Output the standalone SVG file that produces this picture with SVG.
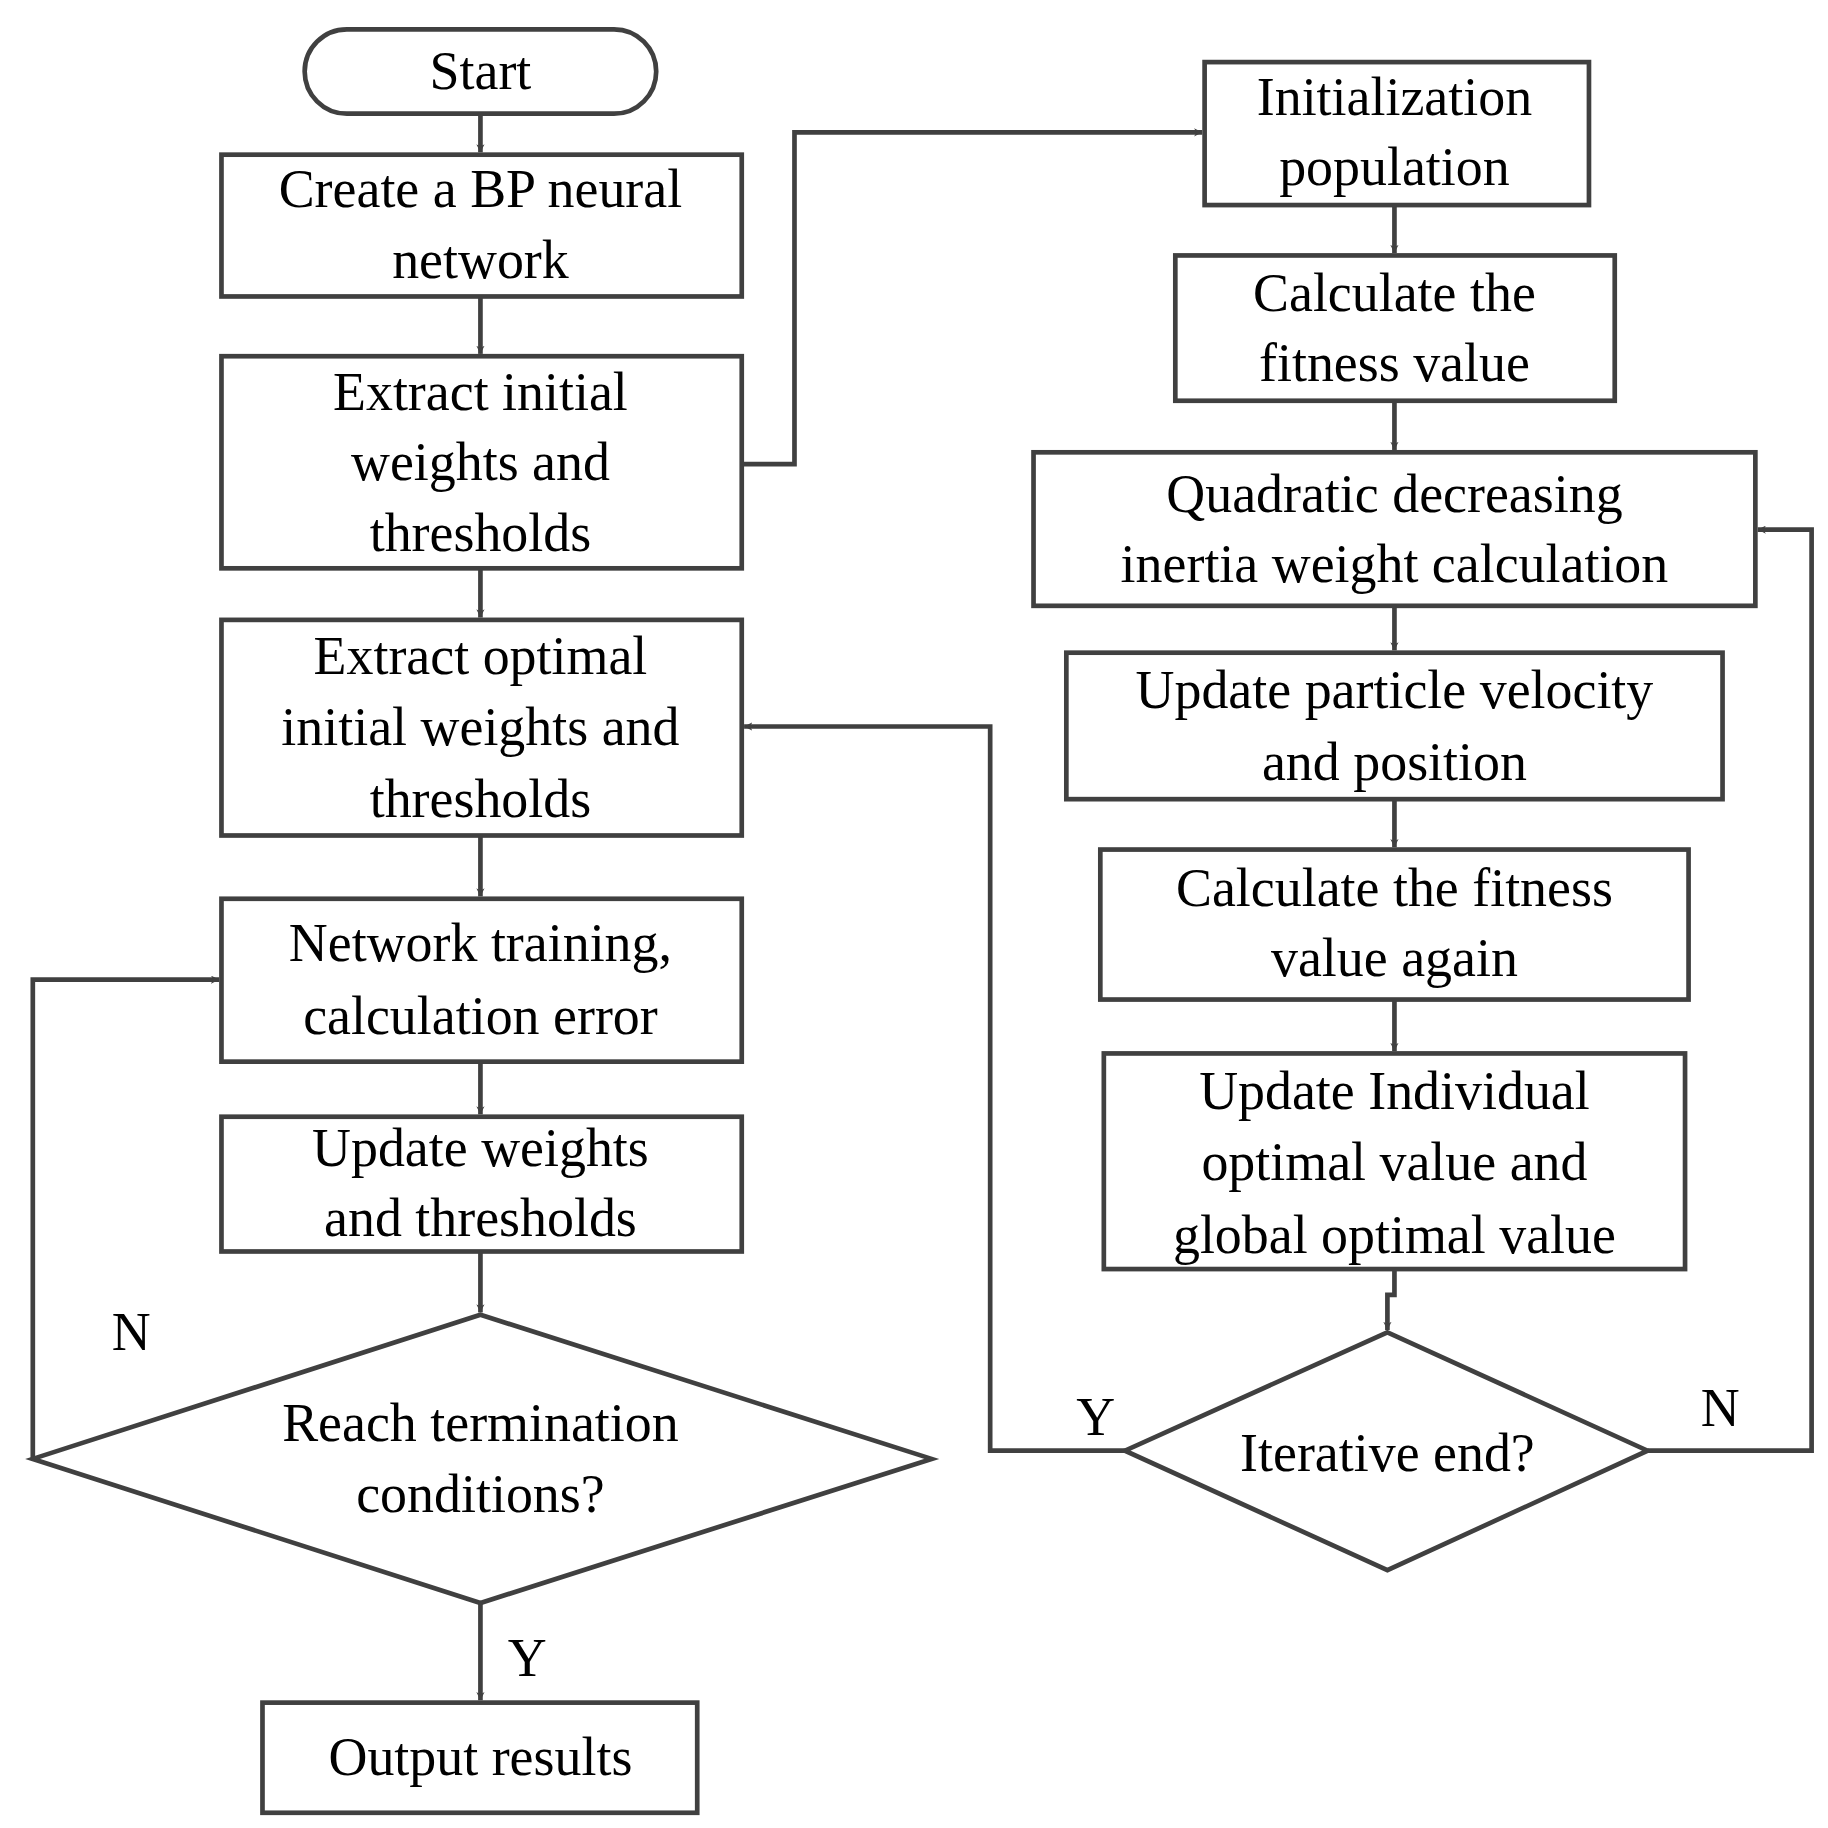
<svg xmlns="http://www.w3.org/2000/svg" width="1828" height="1828" viewBox="0 0 1828 1828">
<defs>
<style>
.b{fill:#fff;stroke:#404040;stroke-width:4}
.c{fill:none;stroke:#404040;stroke-width:4}
text{font-family:"Liberation Serif",serif;font-size:46px;fill:#000;text-anchor:middle}
</style>
<marker id="a" viewBox="0 0 10 10" refX="10" refY="5" markerWidth="7" markerHeight="7" markerUnits="userSpaceOnUse" orient="auto"><path d="M0,0L10,5L0,10L3,5z" fill="#404040"/></marker>
</defs>
<rect width="1828" height="1828" fill="#fff"/>
<g transform="scale(1.1718)">
<g id="connectors" class="c" marker-end="url(#a)">
<path class="c" d="M410,97V130" marker-end="url(#a)"/>
<path class="c" d="M410,253V302" marker-end="url(#a)"/>
<path class="c" d="M410,485V527" marker-end="url(#a)"/>
<path class="c" d="M410,713V765" marker-end="url(#a)"/>
<path class="c" d="M410,906V951" marker-end="url(#a)"/>
<path class="c" d="M410,1068V1120" marker-end="url(#a)"/>
<path class="c" d="M410,1368V1451" marker-end="url(#a)"/>
<path class="c" d="M28,1245V836H187" marker-end="url(#a)"/>
<path class="c" d="M633,396H678V113H1026" marker-end="url(#a)"/>
<path class="c" d="M1190,175V216" marker-end="url(#a)"/>
<path class="c" d="M1190,342V384" marker-end="url(#a)"/>
<path class="c" d="M1190,517V555" marker-end="url(#a)"/>
<path class="c" d="M1190,682V723" marker-end="url(#a)"/>
<path class="c" d="M1190,853V897" marker-end="url(#a)"/>
<path class="c" d="M1190,1083V1105H1184V1135" marker-end="url(#a)"/>
<path class="c" d="M960,1238H845V620H635" marker-end="url(#a)"/>
<path class="c" d="M1406,1238H1546V452H1500" marker-end="url(#a)"/>
</g>
<g id="start"><rect class="b" x="260" y="25" width="300" height="72" rx="36"/><text x="410" y="76">Start</text></g>
<g id="create"><rect class="b" x="189" y="132" width="444" height="121"/><text x="410" y="177">Create a BP neural</text><text x="410" y="237">network</text></g>
<g id="extract1"><rect class="b" x="189" y="304" width="444" height="181"/><text x="410" y="350">Extract initial</text><text x="410" y="410">weights and</text><text x="410" y="470">thresholds</text></g>
<g id="extract2"><rect class="b" x="189" y="529" width="444" height="184"/><text x="410" y="575">Extract optimal</text><text x="410" y="636">initial weights and</text><text x="410" y="697">thresholds</text></g>
<g id="train"><rect class="b" x="189" y="767" width="444" height="139"/><text x="410" y="820">Network training,</text><text x="410" y="882">calculation error</text></g>
<g id="update"><rect class="b" x="189" y="953" width="444" height="115"/><text x="410" y="995">Update weights</text><text x="410" y="1055">and thresholds</text></g>
<g id="reach"><polygon class="b" points="410,1122 795,1245 410,1368 28,1245"/><text x="410" y="1230">Reach termination</text><text x="410" y="1290">conditions?</text></g>
<g id="output"><rect class="b" x="224" y="1453" width="371" height="94"/><text x="410" y="1515">Output results</text></g>
<g id="init"><rect class="b" x="1028" y="53" width="328" height="122"/><text x="1190" y="98">Initialization</text><text x="1190" y="158">population</text></g>
<g id="fit"><rect class="b" x="1003" y="218" width="375" height="124"/><text x="1190" y="265">Calculate the</text><text x="1190" y="325">fitness value</text></g>
<g id="quad"><rect class="b" x="882" y="386" width="616" height="131"/><text x="1190" y="437">Quadratic decreasing</text><text x="1190" y="497">inertia weight calculation</text></g>
<g id="vel"><rect class="b" x="910" y="557" width="560" height="125"/><text x="1190" y="604">Update particle velocity</text><text x="1190" y="666">and position</text></g>
<g id="fit2"><rect class="b" x="939" y="725" width="502" height="128"/><text x="1190" y="773">Calculate the fitness</text><text x="1190" y="833">value again</text></g>
<g id="best"><rect class="b" x="942" y="899" width="496" height="184"/><text x="1190" y="946">Update Individual</text><text x="1190" y="1007">optimal value and</text><text x="1190" y="1069">global optimal value</text></g>
<g id="iter"><polygon class="b" points="1184,1137 1406,1238 1184,1340 960,1238"/><text x="1184" y="1255">Iterative end?</text></g>
<g id="labels"><text x="450" y="1430">Y</text><text x="112" y="1152">N</text><text x="935" y="1225">Y</text><text x="1468" y="1217">N</text></g>
</g>
</svg>
